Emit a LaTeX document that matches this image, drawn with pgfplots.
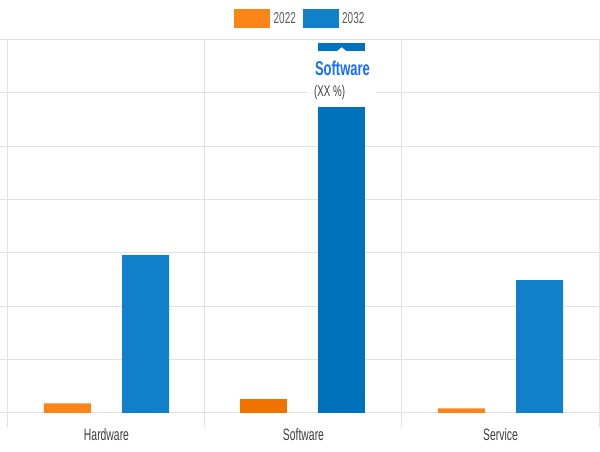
\documentclass[border=0pt]{standalone}
\usepackage{pgfplots}
\pgfplotsset{compat=1.18}
\usepackage{graphicx}
\usepackage{fontspec}
\setmainfont{Liberation Sans}
\definecolor{cOrange}{RGB}{251,133,23}
\definecolor{cOrangeD}{RGB}{240,115,0}
\definecolor{cBlue}{RGB}{17,128,203}
\definecolor{cBlueD}{RGB}{0,114,188}
\definecolor{cGrid}{RGB}{226,226,226}
\definecolor{cBase}{RGB}{175,175,175}
\definecolor{cTxt}{RGB}{60,60,60}
\definecolor{cTip}{RGB}{25,110,255}
\newcommand{\nt}[2][16]{\scalebox{0.63}[1]{\fontsize{#1}{#1}\selectfont #2}}
\begin{document}
\begin{tikzpicture}
\useasboundingbox (0,-25pt) rectangle (600pt,427pt);
\begin{axis}[
  at={(0,0)}, anchor=south west,
  scale only axis, width=600pt, height=387.5pt,
  xmin=-0.5406, xmax=2.5051,
  ymin=-0.2624, ymax=7,
  axis line style={draw=none},
  xtick={0,1,2},
  xticklabels={\nt[16.5]{Hardware},\nt[16.5]{Software},\nt[16.5]{Service}},
  x tick label style={anchor=base, yshift=-14pt, text=cTxt, inner sep=0pt},
  minor xtick={-0.5,0.5,1.5,2.5},
  xminorgrids, minor grid style={cGrid, line width=1pt},
  major tick length=0pt, minor tick length=0pt,
  ytick={1,2,3,4,5,6,7}, yticklabels={},
  ymajorgrids, major grid style={cGrid, line width=1pt},
  extra y ticks={0}, extra y tick labels={},
  extra y tick style={grid style={cBase, line width=1.6pt}},
  ybar, bar width=0.2386,
]
\addplot[fill=cOrange, draw=none, bar shift=-0.198] coordinates {(0,0.182) (2,0.088)};
\addplot[fill=cOrangeD, draw=none, bar shift=-0.203] coordinates {(1,0.262)};
\addplot[fill=cBlue, draw=none, bar shift=0.198] coordinates {(0,2.961) (2,2.49)};
\addplot[fill=cBlueD, draw=none, bar shift=0.195] coordinates {(1,6.93)};
\end{axis}
% tooltip
\fill[white] (307pt,320pt) rectangle (376pt,376.3pt);
\fill[white] (337.2pt,376pt) -- (341.7pt,379.7pt) -- (346.2pt,376pt) -- cycle;
\node[text=cTip, inner sep=0pt] at (342.5pt,359pt) {\scalebox{0.65}[1]{\fontsize{20}{20}\selectfont\bfseries Software}};
\node[text=cTxt, inner sep=0pt, anchor=west] at (314pt,335pt) {\nt[15.5]{(XX \%)}};
% legend
\fill[cOrange] (233.7pt,398.7pt) rectangle (270pt,417.7pt);
\node[text=cTxt!85, anchor=west, inner sep=0pt] at (273.5pt,408.7pt) {\nt[15.8]{2022}};
\fill[cBlue] (302.5pt,398.7pt) rectangle (339pt,417.7pt);
\node[text=cTxt!85, anchor=west, inner sep=0pt] at (342pt,408.7pt) {\nt[15.8]{2032}};
\end{tikzpicture}
\end{document}
